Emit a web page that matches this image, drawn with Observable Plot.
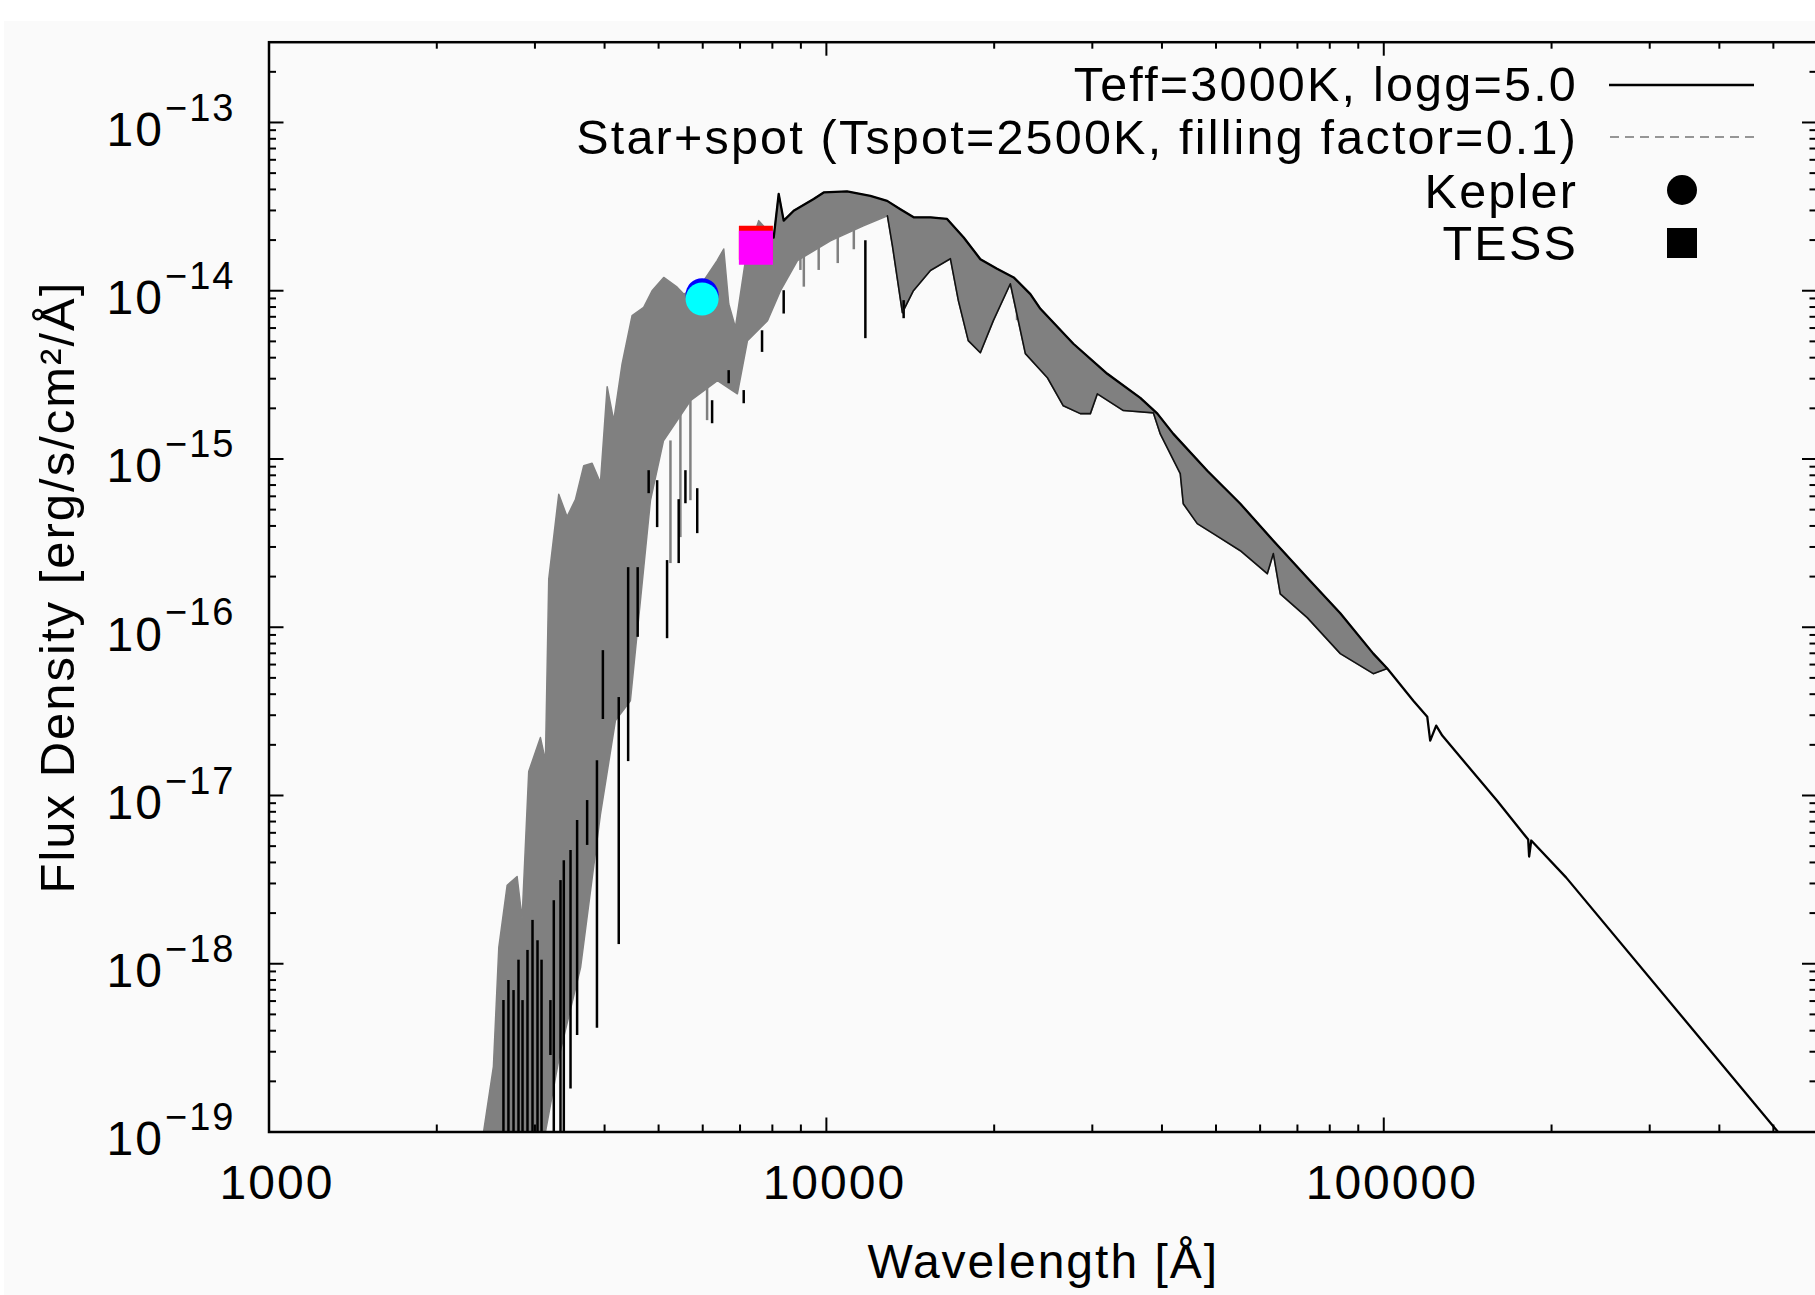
<!DOCTYPE html>
<html><head><meta charset="utf-8">
<script src="https://cdn.jsdelivr.net/npm/d3@7"></script>
<script src="https://cdn.jsdelivr.net/npm/@observablehq/plot@0.6"></script>
<style>
html,body{margin:0;padding:0;width:1815px;height:1295px;overflow:hidden;background:#ffffff;}
#bg{position:absolute;left:4px;top:21px;width:1811px;height:1274px;background:#fafafa;}
#chart{position:absolute;left:0;top:0;}
</style></head><body>
<div id="bg"></div><div id="chart"></div>
<script>
// ---------------- data ----------------
// Upper envelope of the model spectrum (wavelength in Å, flux in erg/s/cm2/Å)
const upperWl = [2426, 2527, 2584, 2675, 2787, 2845, 2924, 3069, 3133, 3176, 3310, 3426, 3546, 3670, 3799, 3932, 4043, 4154, 4300, 4481, 4701, 4867, 5107, 5398, 5546, 5943, 6368, 6544, 6681, 6868, 7157, 7561, 8044, 8212, 8383, 8737, 9489, 9890, 10891, 11993, 12852, 13574, 14341, 15369, 16463, 17634, 18892, 20240, 21677, 23225, 24208, 27740, 31915, 36575, 39250, 41925, 48240, 55290, 63370, 72900, 83560, 95770, 101460];
const upperFlux = [1e-19, 2.45e-19, 1.25e-18, 2.93e-18, 3.30e-18, 1.85e-18, 1.39e-17, 2.21e-17, 1.61e-17, 1.93e-16, 6.17e-16, 4.54e-16, 5.73e-16, 9.12e-16, 9.44e-16, 7.22e-16, 2.69e-15, 1.69e-15, 3.68e-15, 7.11e-15, 7.96e-15, 1.0e-14, 1.20e-14, 1.05e-14, 9.55e-15, 1.07e-14, 1.51e-14, 1.77e-14, 8.34e-15, 6.05e-15, 1.51e-14, 2.61e-14, 2.07e-14, 3.76e-14, 2.61e-14, 2.99e-14, 3.51e-14, 3.84e-14, 3.89e-14, 3.66e-14, 3.42e-14, 3.05e-14, 2.73e-14, 2.73e-14, 2.67e-14, 2.07e-14, 1.54e-14, 1.35e-14, 1.20e-14, 9.55e-15, 7.81e-15, 4.84e-15, 3.21e-15, 2.31e-15, 1.86e-15, 1.41e-15, 8.51e-16, 5.42e-16, 3.27e-16, 1.97e-16, 1.21e-16, 6.97e-17, 5.68e-17];
// Lower envelope of the star+spot band
const lowerWl = [2430, 3133, 3334, 3622, 3932, 4183, 4450, 4638, 4834, 5101, 5702, 6376, 6923, 7218, 7840, 8272, 8872, 10166, 11652, 12868, 13137, 13688, 14326, 15369, 16690, 17250, 17970, 18890, 19930, 21380, 22750, 24920, 26610, 28550, 29760, 30630, 34110, 38600, 39720, 43140, 43680, 46280, 49440, 55290, 61800, 63370, 65210, 72900, 83560, 95770, 101460];
const lowerFlux = [1e-19, 1e-19, 3.05e-19, 9.48e-19, 7.71e-18, 2.79e-17, 3.66e-17, 1.44e-16, 5.65e-16, 1.28e-15, 2.22e-15, 2.92e-15, 2.44e-15, 5.05e-15, 6.64e-15, 1.0e-14, 1.51e-14, 1.98e-14, 2.43e-14, 2.79e-14, 1.85e-14, 7.40e-15, 1.0e-14, 1.32e-14, 1.55e-14, 8.73e-15, 5.05e-15, 4.28e-15, 6.64e-15, 1.10e-14, 4.23e-15, 3.04e-15, 2.07e-15, 1.86e-15, 1.86e-15, 2.44e-15, 1.94e-15, 1.88e-15, 1.41e-15, 8.18e-16, 5.42e-16, 4.13e-16, 3.60e-16, 2.85e-16, 2.08e-16, 2.74e-16, 1.58e-16, 1.14e-16, 6.97e-17, 5.30e-17, 5.68e-17];
// Infrared tail where both curves coincide
const tailWl = [112980, 119670, 121140, 124180, 127330, 159600, 181600, 182300, 183900, 212500, 503700, 600000];
const tailFlux = [3.66e-17, 2.94e-17, 2.12e-17, 2.60e-17, 2.27e-17, 9.33e-18, 5.47e-18, 4.34e-18, 5.40e-18, 3.25e-18, 1.05e-19, 5.2e-20];
// Deep absorption lines of the Teff=3000K model (black)
const lineWl = [2634, 2689, 2746, 2803, 2850, 2909, 2970, 3032, 3083, 3198, 3243, 3334, 3380, 3475, 3571, 3722, 3876, 3972, 4241, 4409, 4586, 4799, 4970, 5178, 5433, 5586, 5865, 6237, 6679, 7107, 7666, 8383, 11747, 13760];
const lineTop = [6.04e-19, 7.95e-19, 6.93e-19, 1.05e-18, 6.04e-19, 1.20e-18, 1.81e-18, 1.37e-18, 1.05e-18, 6.04e-19, 2.37e-18, 3.12e-18, 4.10e-18, 4.71e-18, 7.10e-18, 9.33e-18, 1.61e-17, 7.26e-17, 3.82e-17, 2.26e-16, 2.26e-16, 8.52e-16, 7.43e-16, 2.49e-16, 5.73e-16, 8.52e-16, 6.66e-16, 2.22e-15, 3.35e-15, 2.55e-15, 5.78e-15, 1.0e-14, 1.98e-14, 8.73e-15];
const lineBottom = [1e-19, 1e-19, 1e-19, 1e-19, 1e-19, 1e-19, 1e-19, 1e-19, 1e-19, 2.85e-19, 1e-19, 1e-19, 1e-19, 1.80e-19, 3.74e-19, 5.05e-18, 4.14e-19, 2.83e-17, 1.30e-18, 1.59e-17, 8.71e-17, 6.22e-16, 3.91e-16, 8.55e-17, 2.39e-16, 5.42e-16, 3.60e-16, 1.62e-15, 2.80e-15, 2.13e-15, 4.30e-15, 7.27e-15, 5.19e-15, 6.82e-15];
// Absorption lines of the star+spot spectrum (grey)
const spotLineWl = [5251, 5471, 5702, 6109, 8982, 9687, 9110, 10480, 11200, 21980];
const spotLineTop = [1.28e-15, 2.22e-15, 2.22e-15, 2.92e-15, 1.73e-14, 1.85e-14, 1.60e-14, 2.10e-14, 2.30e-14, 1.10e-14];
const spotLineBottom = [2.39e-16, 3.41e-16, 5.65e-16, 1.69e-15, 1.32e-14, 1.32e-14, 1.05e-14, 1.45e-14, 1.75e-14, 6.64e-15];
// Photometric points
const keplerWl = [5984];
const keplerFlux = [9.47e-15];
const keplerSpotFlux = [8.93e-15];
const tessWl = [7474];
const tessFlux = [1.93e-14];
const tessSpotFlux = [1.80e-14];
// Axes
const xMajor = [1000, 10000, 100000];
const xTickLabels = ["1000", "10000", "100000"];
const xMinor = [2000, 3000, 4000, 5000, 6000, 7000, 8000, 9000, 20000, 30000, 40000, 50000, 60000, 70000, 80000, 90000, 200000, 300000, 400000, 500000];
const yMajor = [1e-19, 1e-18, 1e-17, 1e-16, 1e-15, 1e-14, 1e-13];
const yExponents = ["\u221219", "\u221218", "\u221217", "\u221216", "\u221215", "\u221214", "\u221213"];
const minorMultipliers = [2, 3, 4, 5, 6, 7, 8, 9];
const yMinor = yMajor.slice(0, 6).flatMap(d => minorMultipliers.map(m => m * d)).concat([2e-13]);
const xTitle = "Wavelength [\u00C5]";
const yTitle = "Flux Density [erg/s/cm\u00B2/\u00C5]";
const legendLabels = ["Teff=3000K, logg=5.0", "Star+spot (Tspot=2500K, filling factor=0.1)", "Kepler", "TESS"];

// ---------------- build tables ----------------
const pts = (w, f) => w.map((d, i) => ({wl: d, flux: f[i]}));
const upper = pts(upperWl, upperFlux);
const lower = pts(lowerWl, lowerFlux);
const band = upper.concat(lower.slice().reverse());
const teffLine = upper.filter(d => d.wl >= 8000).concat(pts(tailWl, tailFlux));
const lowerIR = lower.filter(d => d.wl >= 12800);
const lines = lineWl.map((w, i) => ({wl: w, top: lineTop[i], bottom: lineBottom[i]}));
const spotLines = spotLineWl.map((w, i) => ({wl: w, top: spotLineTop[i], bottom: spotLineBottom[i]}));
const kepler = pts(keplerWl, keplerFlux), keplerSpot = pts(keplerWl, keplerSpotFlux);
const tess = pts(tessWl, tessFlux), tessSpot = pts(tessWl, tessSpotFlux);

// ---------------- plot ----------------
const FONT = '"Liberation Sans", Arial, Helvetica, sans-serif';
const W = 1820, H = 1295;
const mT = 41.7, mB = 163.5, mL = 268.5, mR = 3;
const fW = W - mL - mR, fH = H - mT - mB;
const GRAY = "#808080";

const chart = Plot.plot({
  width: W, height: H,
  marginTop: mT, marginBottom: mB, marginLeft: mL, marginRight: mR,
  style: `background: transparent; max-width: none; font-family: ${FONT}; letter-spacing: 2px; color: black;`,
  x: {type: "log", domain: [1000, 600000], axis: null},
  y: {type: "log", domain: [1e-19, 3e-13], axis: null},
  marks: [
    Plot.line(band, {x: "wl", y: "flux", fill: GRAY, stroke: GRAY, strokeWidth: 1.5, clip: true}),
    Plot.ruleX(spotLines, {x: "wl", y1: "bottom", y2: "top", stroke: GRAY, strokeWidth: 2.5, clip: true}),
    Plot.ruleX(lines, {x: "wl", y1: "bottom", y2: "top", stroke: "black", strokeWidth: 2.5, clip: true}),
    Plot.line(lowerIR, {x: "wl", y: "flux", stroke: "#111", strokeWidth: 1.6, clip: true}),
    Plot.line(teffLine, {x: "wl", y: "flux", stroke: "black", strokeWidth: 2.3, clip: true}),
    Plot.dot(kepler, {x: "wl", y: "flux", r: 16.5, fill: "#0000ff"}),
    Plot.dot(keplerSpot, {x: "wl", y: "flux", r: 16.5, fill: "#00ffff"}),
    Plot.dot(tess, {x: "wl", y: "flux", symbol: "square", r: 19.2, fill: "#ff0000"}),
    Plot.dot(tessSpot, {x: "wl", y: "flux", symbol: "square", r: 19.2, fill: "#ff00ff"}),
    // inward ticks on all four sides
    Plot.tickX(xMajor, {x: d => d, insetTop: fH - 14, stroke: "black", strokeWidth: 2}),
    Plot.tickX(xMajor, {x: d => d, insetBottom: fH - 14, stroke: "black", strokeWidth: 2}),
    Plot.tickX(xMinor, {x: d => d, insetTop: fH - 7, stroke: "black", strokeWidth: 2}),
    Plot.tickX(xMinor, {x: d => d, insetBottom: fH - 7, stroke: "black", strokeWidth: 2}),
    Plot.tickY(yMajor, {y: d => d, insetRight: fW - 15, stroke: "black", strokeWidth: 2}),
    Plot.tickY(yMajor, {y: d => d, insetLeft: fW - 15, stroke: "black", strokeWidth: 2}),
    Plot.tickY(yMinor, {y: d => d, insetRight: fW - 7.5, stroke: "black", strokeWidth: 2}),
    Plot.tickY(yMinor, {y: d => d, insetLeft: fW - 7.5, stroke: "black", strokeWidth: 2}),
    Plot.frame({stroke: "black", strokeWidth: 2.5}),
    // tick labels
    Plot.text(xMajor, {x: d => d, text: (d, i) => xTickLabels[i], frameAnchor: "bottom", dy: 52, dx: 8, fontSize: 48, lineAnchor: "middle"}),
    Plot.text(yMajor, {y: d => d, text: () => "10", frameAnchor: "left", dx: -105, dy: 8, textAnchor: "end", lineAnchor: "middle", fontSize: 48}),
    Plot.text(yMajor, {y: d => d, text: (d, i) => yExponents[i], frameAnchor: "left", dx: -104, dy: -14, textAnchor: "start", lineAnchor: "middle", fontSize: 38}),
    // axis titles
    Plot.text([xTitle], {text: d => d, frameAnchor: "bottom", dy: 130.5, textAnchor: "middle", lineAnchor: "middle", fontSize: 48}),
    Plot.text([yTitle], {text: d => d, frameAnchor: "left", dx: -210.5, rotate: -90, textAnchor: "middle", lineAnchor: "middle", fontSize: 49})
  ]
});
document.getElementById("chart").appendChild(chart);

// ---------------- legend (inside the frame, top right) ----------------
const leg = d3.create("svg")
  .attr("width", 1815).attr("height", 300)
  .style("position", "absolute").style("left", "0px").style("top", "0px")
  .style("font-family", FONT).style("font-size", "48.5px").style("letter-spacing", "2.2px");
const baselines = [101, 154, 208, 259.5];
legendLabels.forEach((t, i) => {
  leg.append("text").attr("x", 1578).attr("y", baselines[i]).attr("text-anchor", "end").attr("fill", "black").text(t);
});
leg.append("line").attr("x1", 1609).attr("x2", 1754).attr("y1", 85).attr("y2", 85).attr("stroke", "black").attr("stroke-width", 2.5);
leg.append("line").attr("x1", 1610).attr("x2", 1754).attr("y1", 137).attr("y2", 137).attr("stroke", "#959595").attr("stroke-width", 2).attr("stroke-dasharray", "9,6");
leg.append("circle").attr("cx", 1682).attr("cy", 190).attr("r", 15).attr("fill", "black");
leg.append("rect").attr("x", 1667).attr("y", 228).attr("width", 30).attr("height", 30).attr("fill", "black");
document.body.appendChild(leg.node());
</script>
</body></html>
